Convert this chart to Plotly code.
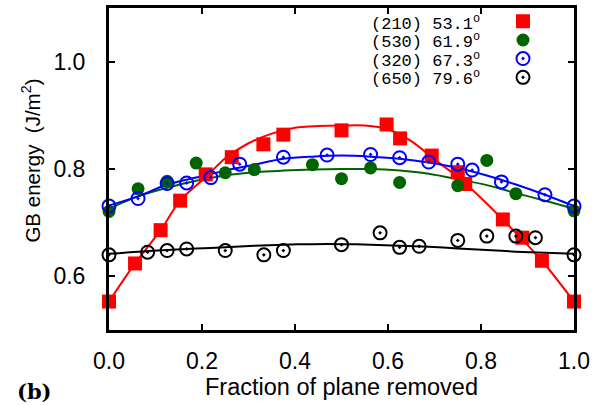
import plotly.graph_objects as go

# ---- data ----
labels = ["(210) 53.1<sup>o</sup>", "(530) 61.9<sup>o</sup>",
          "(320) 67.3<sup>o</sup>", "(650) 79.6<sup>o</sup>"]

x_210 = [0.0, 0.056, 0.111, 0.153, 0.208, 0.264, 0.332, 0.375, 0.5, 0.597,
         0.626, 0.694, 0.75, 0.766, 0.847, 0.889, 0.931, 1.0]
y_210 = [0.553, 0.624, 0.686, 0.741, 0.790, 0.822, 0.846, 0.864, 0.872, 0.883,
         0.857, 0.825, 0.794, 0.772, 0.706, 0.672, 0.629, 0.553]

x_530 = [0.0, 0.0625, 0.125, 0.1875, 0.25, 0.3125, 0.4375, 0.5, 0.5625, 0.625,
         0.75, 0.8125, 0.875, 1.0]
y_530 = [0.721, 0.763, 0.777, 0.811, 0.793, 0.799, 0.808, 0.782, 0.802, 0.775,
         0.769, 0.816, 0.754, 0.722]

x_320 = [0.0, 0.0625, 0.125, 0.167, 0.219, 0.281, 0.375, 0.469, 0.5625, 0.625,
         0.6875, 0.75, 0.781, 0.844, 0.9375, 1.0]
y_320 = [0.731, 0.745, 0.773, 0.774, 0.784, 0.809, 0.822, 0.826, 0.827, 0.821,
         0.813, 0.809, 0.798, 0.776, 0.752, 0.731]

x_650 = [0.0, 0.083, 0.125, 0.167, 0.25, 0.333, 0.375, 0.5, 0.583, 0.625,
         0.667, 0.75, 0.8125, 0.875, 0.917, 1.0]
y_650 = [0.640, 0.645, 0.648, 0.651, 0.648, 0.640, 0.648, 0.659, 0.681, 0.654,
         0.656, 0.667, 0.675, 0.675, 0.672, 0.640]

# fitted curves
fit_x_210 = [0.0, 0.056, 0.111, 0.153, 0.208, 0.25, 0.30, 0.35, 0.40, 0.45, 0.50,
             0.55, 0.60, 0.65, 0.70, 0.75, 0.80, 0.85, 0.93, 1.0]
fit_y_210 = [0.553, 0.624, 0.686, 0.741, 0.785, 0.820, 0.848, 0.866, 0.877, 0.880,
             0.881, 0.881, 0.874, 0.852, 0.818, 0.785, 0.746, 0.703, 0.630, 0.553]

fit_x = [0.0, 0.0625, 0.125, 0.1875, 0.25, 0.3125, 0.375, 0.4375, 0.5, 0.5625,
         0.625, 0.6875, 0.75, 0.8125, 0.875, 0.9375, 1.0]
fit_y_530 = [0.726, 0.749, 0.765, 0.778, 0.788, 0.794, 0.797, 0.799, 0.800, 0.800,
             0.797, 0.791, 0.781, 0.770, 0.755, 0.741, 0.726]
fit_y_320 = [0.732, 0.749, 0.771, 0.784, 0.797, 0.808, 0.819, 0.823, 0.825, 0.823,
             0.819, 0.812, 0.802, 0.788, 0.771, 0.752, 0.731]
fit_y_650 = [0.642, 0.646, 0.649, 0.652, 0.654, 0.657, 0.659, 0.660, 0.660, 0.659,
             0.657, 0.655, 0.652, 0.649, 0.646, 0.644, 0.642]

x_ticks = [0.0, 0.2, 0.4, 0.6, 0.8, 1.0]
y_ticks = [0.6, 0.8, 1.0]

RED, GREEN, BLUE, BLACK = "#ff0000", "#006400", "#0000ff", "#000000"

fig = go.Figure()

# fit lines
for fx, fy, c in [(fit_x_210, fit_y_210, RED), (fit_x, fit_y_530, GREEN),
                  (fit_x, fit_y_320, BLUE), (fit_x, fit_y_650, BLACK)]:
    fig.add_trace(go.Scatter(x=fx, y=fy, mode="lines",
                             line=dict(color=c, width=2, shape="spline", smoothing=0.8),
                             showlegend=False, hoverinfo="skip", cliponaxis=False))

# markers (each in its own legend so the legend rows can be spaced like the original)
fig.add_trace(go.Scatter(x=x_210, y=y_210, mode="markers", name=" ", legend="legend",
                         marker=dict(symbol="square", size=14, color=RED), cliponaxis=False))
fig.add_trace(go.Scatter(x=x_530, y=y_530, mode="markers", name=" ", legend="legend2",
                         marker=dict(symbol="circle", size=13, color=GREEN), cliponaxis=False))
fig.add_trace(go.Scatter(x=x_320, y=y_320, mode="markers", name=" ", legend="legend3",
                         marker=dict(symbol="circle-open-dot", size=13, color=BLUE,
                                     line=dict(width=2, color=BLUE)), cliponaxis=False))
fig.add_trace(go.Scatter(x=x_650, y=y_650, mode="markers", name=" ", legend="legend4",
                         marker=dict(symbol="circle-open-dot", size=13, color=BLACK,
                                     line=dict(width=2, color=BLACK)), cliponaxis=False))

W, H = 603, 405
L, R, T, B = 109, 29, 5, 75
pw, ph = W - L - R, H - T - B

def px_x(p):
    return (p - L) / pw

def px_y(p):
    return (H - B - p) / ph

ann = []
legend_rows = [20.0, 38.5, 57.0, 75.5]
for lab, yy in zip(labels, legend_rows):
    ann.append(dict(text=lab, xref="paper", yref="paper", x=px_x(369), y=px_y(yy),
                    xanchor="left", yanchor="middle", showarrow=False,
                    font=dict(family="Liberation Mono", size=17, color="black")))
ann.append(dict(text="GB energy  (J/m<sup>2</sup>)", xref="paper", yref="paper",
                x=px_x(31), y=px_y(159), textangle=-90, xanchor="center", yanchor="middle",
                showarrow=False, font=dict(family="Liberation Sans", size=20.5, color="black")))
ann.append(dict(text="Fraction of plane removed", xref="paper", yref="paper",
                x=0.5, y=px_y(388), xanchor="center", yanchor="middle",
                showarrow=False, font=dict(family="Liberation Sans", size=23.5, color="black")))
ann.append(dict(text="<b>(b)</b>", xref="paper", yref="paper",
                x=px_x(34), y=px_y(392), xanchor="center", yanchor="middle",
                showarrow=False, font=dict(family="DejaVu Serif", size=21, color="black")))

axis_common = dict(showline=True, linewidth=3, linecolor="black", mirror="ticks",
                   ticks="inside", ticklen=6, tickwidth=1.5, tickcolor="black",
                   showgrid=False, zeroline=False,
                   tickfont=dict(family="Liberation Sans", size=23, color="black"))

marker_rows = [18.3, 37.3, 56.0, 75.0]
legends = {}
for i, yy in enumerate(marker_rows):
    key = "legend" if i == 0 else f"legend{i + 1}"
    legends[key] = dict(x=px_x(503), y=px_y(yy), xanchor="left", yanchor="middle",
                        bgcolor="rgba(0,0,0,0)", font=dict(size=8))

fig.update_layout(
    width=W, height=H,
    margin=dict(l=L, r=R, t=T, b=B),
    paper_bgcolor="white", plot_bgcolor="white",
    xaxis=dict(range=[0, 1], tickvals=x_ticks, tickformat=".1f", ticklabelstandoff=8, **axis_common),
    yaxis=dict(range=[0.5, 1.1], tickvals=y_ticks, tickformat=".1f", ticklabelstandoff=16, **axis_common),
    annotations=ann,
    **legends,
)

fig.write_html("out.html", config={"displayModeBar": False},
               post_script="document.body.style.margin='0';document.body.style.overflow='hidden';")
